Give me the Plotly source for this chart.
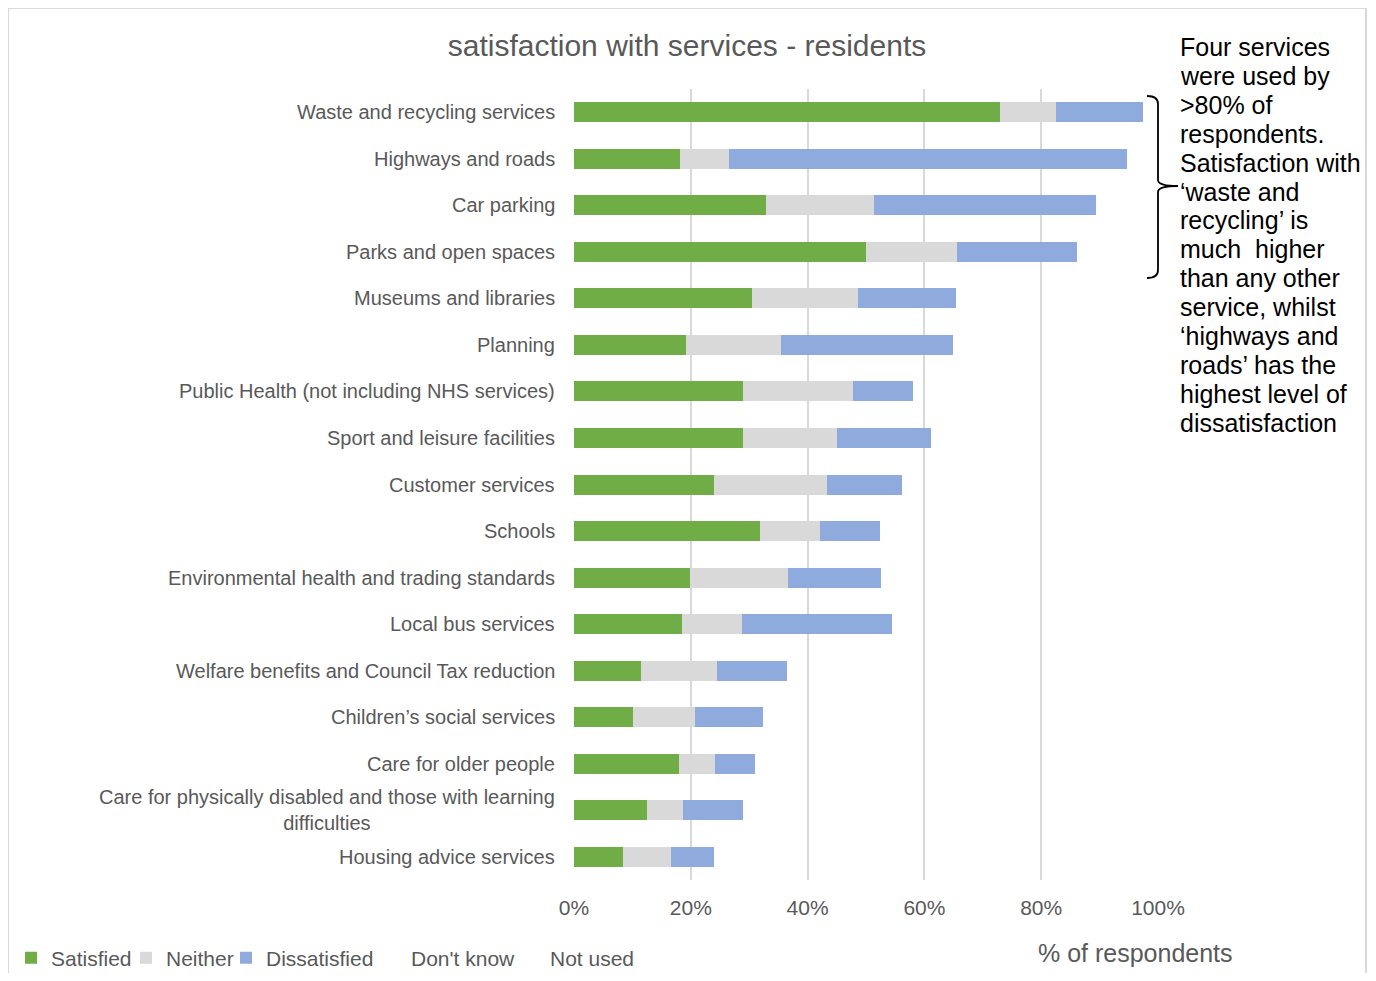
import plotly.graph_objects as go

categories = [
    "Waste and recycling services",
    "Highways and roads",
    "Car parking",
    "Parks and open spaces",
    "Museums and libraries",
    "Planning",
    "Public Health (not including NHS services)",
    "Sport and leisure facilities",
    "Customer services",
    "Schools",
    "Environmental health and trading standards",
    "Local bus services",
    "Welfare benefits and Council Tax reduction",
    "Children\u2019s social services",
    "Care for older people",
    "Care for physically disabled and those with learning<br>difficulties",
    "Housing advice services",
]
satisfied = [73.0, 18.1, 32.8, 50.0, 30.5, 19.2, 28.9, 28.9, 23.9, 31.8, 19.8, 18.5, 11.5, 10.1, 17.9, 12.5, 8.4]
neither = [9.5, 8.5, 18.6, 15.5, 18.1, 16.3, 18.8, 16.1, 19.4, 10.3, 16.9, 10.2, 13.0, 10.7, 6.2, 6.2, 8.2]
dissatisfied = [14.9, 68.1, 37.9, 20.7, 16.8, 29.4, 10.3, 16.1, 12.9, 10.3, 15.9, 25.8, 12.0, 11.6, 6.9, 10.2, 7.3]
x_ticks = [0, 20, 40, 60, 80, 100]
x_tick_labels = ["0%", "20%", "40%", "60%", "80%", "100%"]

title_text = "satisfaction with services - residents"
x_title = "% of respondents"
note_lines = [
    "Four services", "were used by", ">80% of", "respondents.",
    "Satisfaction with", "\u2018waste and", "recycling\u2019 is", "much  higher",
    "than any other", "service, whilst", "\u2018highways and", "roads\u2019 has the",
    "highest level of", "dissatisfaction",
]

OFF = 8  # page body margin
W, H = 1376 - 2 * OFF, 981 - 2 * OFF
L, R, T, B = 574 - OFF, 1158 - OFF, 89 - OFF, 880 - OFF

def px(x):
    return (x - OFF - L) / (R - L)

def py(y):
    return (B - (y - OFF)) / (B - T)

TXT = "#595959"
FONT = "Liberation Sans, Arial, sans-serif"

fig = go.Figure()
for name, vals, col, lw in [("Satisfied", satisfied, "#70AD47", 70),
                            ("Neither", neither, "#D9D9D9", 55),
                            ("Dissatisfied", dissatisfied, "#8FAADC", 100)]:
    fig.add_trace(go.Bar(y=categories, x=vals, name=name, orientation="h",
                         marker=dict(color=col, line=dict(width=0)), width=0.43,
                         legendwidth=lw))
for name, lw in [("Don't know", 94), ("Not used", 90)]:
    fig.add_trace(go.Bar(y=[categories[0]], x=[None], name=name, orientation="h",
                         marker=dict(color="rgba(255,255,255,0)", line=dict(width=0)),
                         width=0.43, legendwidth=lw))

annotations = []
for c in categories:
    annotations.append(dict(x=0, xref="paper", y=c, yref="y", text=c, showarrow=False,
                            xanchor="right", yanchor="middle", xshift=-17, align="center",
                            font=dict(size=20, color=TXT, family=FONT)))
annotations.append(dict(x=px(1135), xref="paper", y=py(953), yref="paper", text=x_title,
                        showarrow=False, xanchor="center", yanchor="middle",
                        font=dict(size=25, color=TXT, family=FONT)))
for i, line in enumerate(note_lines):
    annotations.append(dict(x=px(1178), xref="paper", y=py(47 + 28.9 * i), yref="paper",
                            text=line, showarrow=False, xanchor="left", yanchor="middle",
                            font=dict(size=25, color="black", family=FONT)))

shapes = [
    dict(type="rect", xref="paper", yref="paper", x0=px(8), x1=px(1366), y0=py(1000), y1=py(8),
         line=dict(color="#D9D9D9", width=2), layer="below"),
    dict(type="path", xref="paper", yref="paper",
         path=(f"M {px(1147)} {py(96)} Q {px(1158)} {py(96)} {px(1158)} {py(104)} "
               f"L {px(1158)} {py(180)} Q {px(1158)} {py(186)} {px(1178)} {py(186)} "
               f"Q {px(1158)} {py(186)} {px(1158)} {py(192)} "
               f"L {px(1158)} {py(270)} Q {px(1158)} {py(278)} {px(1147)} {py(278)}"),
         line=dict(color="black", width=1.8)),
]

fig.update_layout(
    width=W, height=H,
    barmode="stack",
    plot_bgcolor="white", paper_bgcolor="white",
    margin=dict(l=L, r=W - R, t=T, b=H - B, pad=0, autoexpand=False),
    title=dict(text=title_text, x=(687 - OFF) / W, xref="container",
               y=1 - (45 - OFF) / H, yref="container",
               xanchor="center", yanchor="middle",
               font=dict(size=30, color=TXT, family=FONT)),
    xaxis=dict(range=[0, 100], tickvals=x_ticks, ticktext=x_tick_labels,
               showgrid=True, gridcolor="#D9D9D9", gridwidth=2,
               zeroline=False, showline=False,
               ticks="outside", ticklen=9, tickcolor="rgba(0,0,0,0)",
               tickfont=dict(size=21, color=TXT, family=FONT), fixedrange=True),
    yaxis=dict(categoryorder="array", categoryarray=categories, autorange="reversed",
               showticklabels=False, showgrid=False, zeroline=False, showline=False,
               ticks="", fixedrange=True),
    legend=dict(orientation="h", x=px(11), xanchor="left", y=py(958), yanchor="middle",
                font=dict(size=21, color=TXT, family=FONT), traceorder="normal",
                itemwidth=30, bgcolor="rgba(0,0,0,0)"),
    annotations=annotations,
    shapes=shapes,
    showlegend=True,
)

fig.write_html("out.html")
